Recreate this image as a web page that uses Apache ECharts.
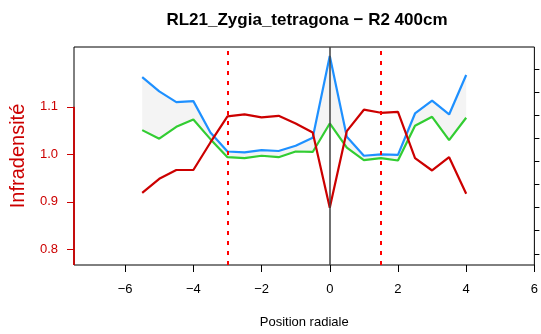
<!DOCTYPE html>
<html>
<head>
<meta charset="utf-8">
<script src="https://cdn.jsdelivr.net/npm/echarts@6/dist/echarts.min.js"></script>
<style>html,body{margin:0;padding:0;background:#fff}#c{width:541px;height:334px}</style>
</head>
<body>
<div id="c"></div>
<script>
const xPos = [-5.5,-5,-4.5,-4,-3.5,-3,-2.5,-2,-1.5,-1,-0.5,0,0.5,1,1.5,2,2.5,3,3.5,4];
const blueVals = [1.1625,1.1325,1.110,1.112,1.046,1.006,1.004,1.009,1.007,1.018,1.035,1.207,1.037,0.997,1.000,0.999,1.086,1.113,1.084,1.167];
const greenVals = [1.051,1.033,1.058,1.0735,1.032,0.994,0.992,0.997,0.994,1.006,1.005,1.065,1.014,0.988,0.992,0.987,1.060,1.079,1.030,1.077];
const redVals = [0.919,0.9485,0.967,0.967,1.025,1.080,1.084,1.078,1.081,1.065,1.046,0.8875,1.049,1.094,1.0875,1.0896,0.992,0.966,0.994,0.917];
const xTicks = [-6,-4,-2,0,2,4,6];
const yTicks = [0.8,0.9,1.0,1.1];
const rightTicks = [1,2,3,4,5,6,7,8,9];
const redDotted = [-3, 1.5];
const centerLine = 0;

const xMin = -7.5, xMax = 6, yMin = 0.767, yMax = 1.226;
const FONT = '"Liberation Sans", Arial, sans-serif';

const pairs = (ys) => xPos.map((x, i) => [x, ys[i]]);

const chart = echarts.init(document.getElementById('c'), null, {renderer: 'canvas'});
chart.setOption({
  animation: false,
  backgroundColor: '#fff',
  title: {
    text: 'RL21_Zygia_tetragona \u2212 R2 400cm',
    left: 302, textAlign: 'center', top: 7,
    textStyle: {fontFamily: FONT, fontSize: 17, fontWeight: 'bold', color: '#000'}
  },
  grid: {left: 74, right: 6, top: 47, bottom: 67, show: true, borderColor: '#000', borderWidth: 1, backgroundColor: 'transparent'},
  xAxis: {
    type: 'value', min: xMin, max: xMax,
    name: 'Position radiale', nameLocation: 'middle', nameGap: 51,
    nameTextStyle: {fontFamily: FONT, fontSize: 13, color: '#000'},
    axisLine: {show: false, onZero: false},
    splitLine: {show: false},
    axisTick: {show: true, length: 7, customValues: xTicks, lineStyle: {color: '#000', width: 1}},
    axisLabel: {customValues: xTicks, margin: 18, fontFamily: FONT, fontSize: 13, color: '#000',
      formatter: v => String(v).replace('-', '\u2212')}
  },
  yAxis: [{
    type: 'value', min: yMin, max: yMax, position: 'left',
    name: 'Infradensit\u00e9', nameLocation: 'middle', nameGap: 46, nameRotate: 90,
    nameTextStyle: {fontFamily: FONT, fontSize: 20, color: '#CC0000'},
    axisLine: {show: false, onZero: false},
    splitLine: {show: false},
    axisTick: {show: true, length: 7, customValues: yTicks, lineStyle: {color: '#CC0000', width: 1}},
    axisLabel: {customValues: yTicks, margin: 16, fontFamily: FONT, fontSize: 13, color: '#CC0000',
      formatter: v => v.toFixed(1)}
  }, {
    type: 'value', min: 0.516, max: 9.946, position: 'right',
    axisLine: {show: false, onZero: false},
    splitLine: {show: false},
    axisTick: {show: true, length: 5, customValues: rightTicks, lineStyle: {color: '#000', width: 1}},
    axisLabel: {show: false}
  }],
  series: [
    {
      type: 'custom', name: 'band', z: 1, silent: true,
      data: pairs(blueVals),
      renderItem: function (params, api) {
        if (params.dataIndex !== 0) return null;
        const upper = xPos.map((x, i) => api.coord([x, blueVals[i]]));
        const lower = xPos.map((x, i) => api.coord([x, greenVals[i]])).reverse();
        return {type: 'polygon', shape: {points: upper.concat(lower)}, style: {fill: '#F4F4F4', stroke: null}};
      }
    },
    {type: 'line', name: 'blue', data: pairs(blueVals), symbol: 'none', lineStyle: {color: '#1E90FF', width: 2.2}, z: 3},
    {type: 'line', name: 'green', data: pairs(greenVals), symbol: 'none', lineStyle: {color: '#32CD32', width: 2.2}, z: 3},
    {type: 'line', name: 'red', data: pairs(redVals), symbol: 'none', lineStyle: {color: '#CC0000', width: 2.2}, z: 4},
    {
      type: 'line', name: 'marks', data: [], z: 6, silent: true,
      markLine: {
        silent: true, symbol: ['none', 'none'], label: {show: false}, animation: false,
        data: [
          {xAxis: centerLine, lineStyle: {color: '#404040', width: 1.5, type: 'solid'}},
          ...redDotted.map(v => ({xAxis: v, lineStyle: {color: '#FF0000', width: 2, type: [4, 6]}})),
          [{coord: [xMin, yTicks[yTicks.length - 1]], lineStyle: {color: '#CC0000', width: 1.8, type: 'solid'}}, {coord: [xMin, yMin]}]
        ]
      }
    }
  ]
});
</script>
</body>
</html>
